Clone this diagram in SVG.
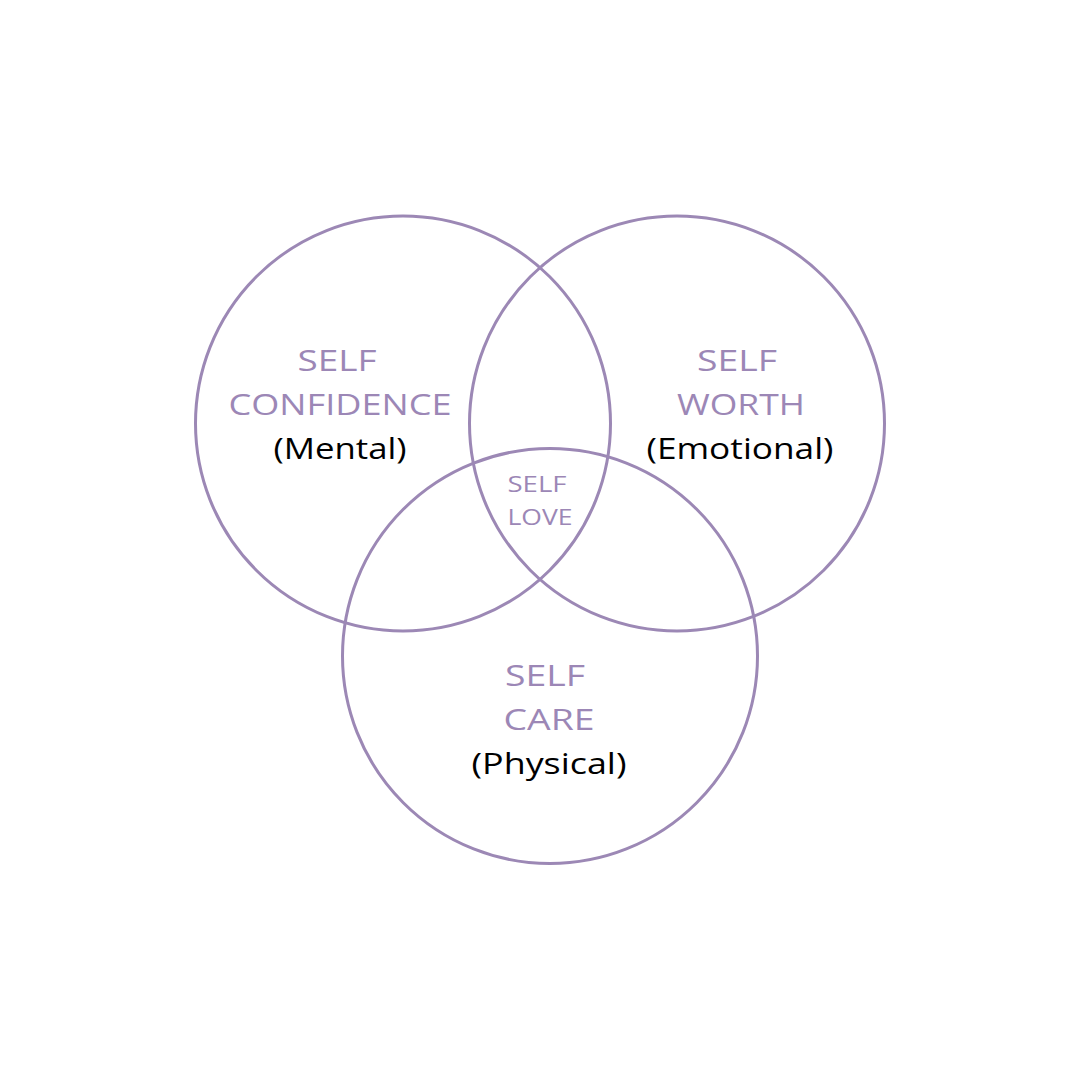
<svg xmlns="http://www.w3.org/2000/svg" width="1080" height="1080" viewBox="0 0 1080 1080">
<style>
.c{fill:none;stroke:#9c88b5;stroke-width:3}
.p{fill:#9c87b6;font-family:"Open Sans","Liberation Sans",sans-serif;font-size:30px;text-anchor:middle}
.k{fill:#000;font-family:"Open Sans","Liberation Sans",sans-serif;font-size:30px;text-anchor:middle}
.s{fill:#9c87b6;font-family:"Open Sans","Liberation Sans",sans-serif;font-size:22px;text-anchor:middle}
</style>
<rect width="1080" height="1080" fill="#fff"/>
<g id="mental">
<circle class="c" cx="403" cy="423.5" r="207.5"/>
<text class="p" x="337" y="371" textLength="79" lengthAdjust="spacingAndGlyphs">SELF</text>
<text class="p" x="340" y="415" textLength="223" lengthAdjust="spacingAndGlyphs">CONFIDENCE</text>
<text class="k" x="340" y="459" textLength="133" lengthAdjust="spacingAndGlyphs">(Mental)</text>
</g>
<g id="emotional">
<circle class="c" cx="677" cy="423.5" r="207.5"/>
<text class="p" x="737" y="371" textLength="80" lengthAdjust="spacingAndGlyphs">SELF</text>
<text class="p" x="741" y="415" textLength="128" lengthAdjust="spacingAndGlyphs">WORTH</text>
<text class="k" x="740" y="459" textLength="187" lengthAdjust="spacingAndGlyphs">(Emotional)</text>
</g>
<g id="physical">
<circle class="c" cx="550" cy="656" r="207.5"/>
<text class="p" x="545" y="686" textLength="80" lengthAdjust="spacingAndGlyphs">SELF</text>
<text class="p" x="549" y="730" textLength="91" lengthAdjust="spacingAndGlyphs">CARE</text>
<text class="k" x="549" y="774" textLength="155" lengthAdjust="spacingAndGlyphs">(Physical)</text>
</g>
<g id="selflove">
<text class="s" x="537" y="492" textLength="59" lengthAdjust="spacingAndGlyphs">SELF</text>
<text class="s" x="540" y="525" textLength="65" lengthAdjust="spacingAndGlyphs">LOVE</text>
</g>
<g id="connectors"/>
</svg>
